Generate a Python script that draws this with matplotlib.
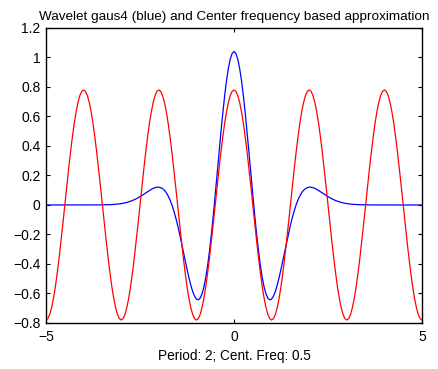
#!/usr/bin/env python3
"""Wavelet gaus4 vs. center frequency based cosine approximation."""
import matplotlib
matplotlib.use('Agg')
import matplotlib.pyplot as plt

# --- Data (sampled every 0.05 on [-5, 5]) ---
X_VALUES = [round(-5 + 0.05 * i, 2) for i in range(201)]

# gaus4 wavelet values
WAVELET = [
    0.0, 0.0, 0.0, 0.0, 0.0, 0.0, 0.0, 0.0, 0.0, 0.0,
    0.0, 0.0, 0.0, 0.0, 0.0, 0.0, 0.0, 0.0, 0.0, 0.0,
    0.0, 0.0, 0.0,
    0.0001, 0.0001, 0.0002, 0.0002, 0.0003, 0.0004, 0.0006, 0.0008, 0.0010, 0.0013,
    0.0017, 0.0022, 0.0029, 0.0037, 0.0047, 0.0060, 0.0075, 0.0094, 0.0116, 0.0143,
    0.0174, 0.0211, 0.0254, 0.0303, 0.0359, 0.0421, 0.0489, 0.0564, 0.0644, 0.0727,
    0.0813, 0.0899, 0.0982, 0.1059, 0.1124, 0.1175, 0.1204, 0.1206, 0.1176, 0.1107,
    0.0994, 0.0830, 0.0611, 0.0333, -0.0005, -0.0403, -0.0860, -0.1370, -0.1926, -0.2517,
    -0.3129, -0.3746, -0.4349, -0.4917, -0.5426, -0.5855, -0.6179, -0.6377, -0.6428, -0.6316,
    -0.6029, -0.5560, -0.4907, -0.4077, -0.3081, -0.1939, -0.0676, 0.0675, 0.2078, 0.3493,
    0.4877, 0.6186, 0.7379, 0.8415, 0.9261, 0.9886, 1.0271,
    1.0400,
    1.0271, 0.9886, 0.9261, 0.8415, 0.7379, 0.6186, 0.4877,
    0.3493, 0.2078, 0.0675, -0.0676, -0.1939, -0.3081, -0.4077, -0.4907, -0.5560, -0.6029,
    -0.6316, -0.6428, -0.6377, -0.6179, -0.5855, -0.5426, -0.4917, -0.4349, -0.3746, -0.3129,
    -0.2517, -0.1926, -0.1370, -0.0860, -0.0403, -0.0005, 0.0333, 0.0611, 0.0830, 0.0994,
    0.1107, 0.1176, 0.1206, 0.1204, 0.1175, 0.1124, 0.1059, 0.0982, 0.0899, 0.0813,
    0.0727, 0.0644, 0.0564, 0.0489, 0.0421, 0.0359, 0.0303, 0.0254, 0.0211, 0.0174,
    0.0143, 0.0116, 0.0094, 0.0075, 0.0060, 0.0047, 0.0037, 0.0029, 0.0022, 0.0017,
    0.0013, 0.0010, 0.0008, 0.0006, 0.0004, 0.0003, 0.0002, 0.0002, 0.0001, 0.0001,
    0.0, 0.0, 0.0, 0.0, 0.0, 0.0, 0.0, 0.0, 0.0, 0.0,
    0.0, 0.0, 0.0, 0.0, 0.0, 0.0, 0.0, 0.0, 0.0, 0.0,
    0.0, 0.0, 0.0,
]

# cosine approximation (period 2, amplitude ~0.78)
APPROX = [
    -0.780, -0.770, -0.742, -0.695, -0.631, -0.552, -0.458, -0.354, -0.241, -0.122,
    0.0, 0.122, 0.241, 0.354, 0.458, 0.552, 0.631, 0.695, 0.742, 0.770,
    0.780, 0.770, 0.742, 0.695, 0.631, 0.552, 0.458, 0.354, 0.241, 0.122,
    0.0, -0.122, -0.241, -0.354, -0.458, -0.552, -0.631, -0.695, -0.742, -0.770,
    -0.780, -0.770, -0.742, -0.695, -0.631, -0.552, -0.458, -0.354, -0.241, -0.122,
    0.0, 0.122, 0.241, 0.354, 0.458, 0.552, 0.631, 0.695, 0.742, 0.770,
    0.780, 0.770, 0.742, 0.695, 0.631, 0.552, 0.458, 0.354, 0.241, 0.122,
    0.0, -0.122, -0.241, -0.354, -0.458, -0.552, -0.631, -0.695, -0.742, -0.770,
    -0.780, -0.770, -0.742, -0.695, -0.631, -0.552, -0.458, -0.354, -0.241, -0.122,
    0.0, 0.122, 0.241, 0.354, 0.458, 0.552, 0.631, 0.695, 0.742, 0.770,
    0.780, 0.770, 0.742, 0.695, 0.631, 0.552, 0.458, 0.354, 0.241, 0.122,
    0.0, -0.122, -0.241, -0.354, -0.458, -0.552, -0.631, -0.695, -0.742, -0.770,
    -0.780, -0.770, -0.742, -0.695, -0.631, -0.552, -0.458, -0.354, -0.241, -0.122,
    0.0, 0.122, 0.241, 0.354, 0.458, 0.552, 0.631, 0.695, 0.742, 0.770,
    0.780, 0.770, 0.742, 0.695, 0.631, 0.552, 0.458, 0.354, 0.241, 0.122,
    0.0, -0.122, -0.241, -0.354, -0.458, -0.552, -0.631, -0.695, -0.742, -0.770,
    -0.780, -0.770, -0.742, -0.695, -0.631, -0.552, -0.458, -0.354, -0.241, -0.122,
    0.0, 0.122, 0.241, 0.354, 0.458, 0.552, 0.631, 0.695, 0.742, 0.770,
    0.780, 0.770, 0.742, 0.695, 0.631, 0.552, 0.458, 0.354, 0.241, 0.122,
    0.0, -0.122, -0.241, -0.354, -0.458, -0.552, -0.631, -0.695, -0.742, -0.770,
    -0.780,
]

X_TICKS = [-5, 0, 5]
Y_TICKS = [-0.8, -0.6, -0.4, -0.2, 0, 0.2, 0.4, 0.6, 0.8, 1, 1.2]
Y_TICK_LABELS = ['\u22120.8', '\u22120.6', '\u22120.4', '\u22120.2', '0',
                 '0.2', '0.4', '0.6', '0.8', '1', '1.2']
X_TICK_LABELS = ['\u22125', '0', '5']

TITLE = "Wavelet gaus4 (blue) and Center frequency based approximation"
XLABEL = "Period: 2; Cent. Freq: 0.5"

plt.rcParams['font.family'] = ['Liberation Sans', 'DejaVu Sans']
plt.rcParams['font.size'] = 10

fig = plt.figure(figsize=(4.39, 3.69), dpi=100)
ax = fig.add_axes([0.1048, 0.1247, 0.8565, 0.7995])

ax.plot(X_VALUES, WAVELET, color='#0000ff', lw=0.9)
ax.plot(X_VALUES, APPROX, color='#ff0000', lw=0.9)

ax.set_xlim(-5, 5)
ax.set_ylim(-0.8, 1.2)
ax.set_xticks(X_TICKS)
ax.set_xticklabels(X_TICK_LABELS)
ax.set_yticks(Y_TICKS)
ax.set_yticklabels(Y_TICK_LABELS)
ax.tick_params(direction='in', length=3, width=0.8, top=True, right=True,
               labelsize=10, colors='black')
ax.tick_params(axis='y', pad=4)
ax.tick_params(axis='x', pad=5)
for sp in ax.spines.values():
    sp.set_linewidth(1.0)

ax.set_title(TITLE, fontsize=9.7, pad=5.5)
ax.set_xlabel(XLABEL, fontsize=9.8, labelpad=3.5)

fig.savefig('out.png', dpi=100)
plt.close()
